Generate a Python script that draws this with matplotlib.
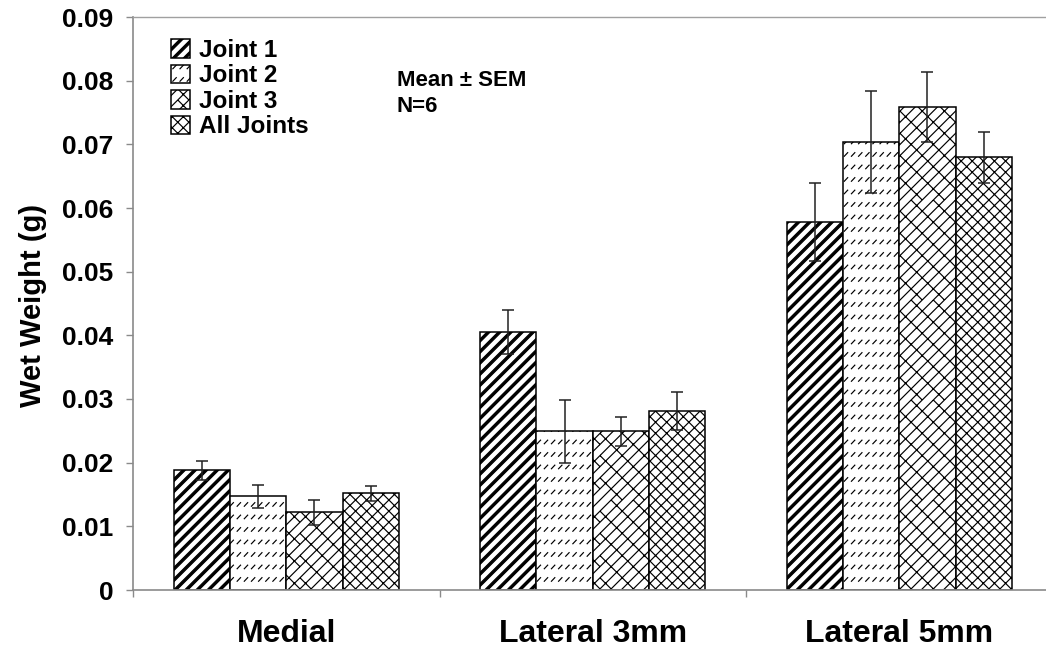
import numpy as np
import matplotlib
matplotlib.use("Agg")
import matplotlib.pyplot as plt
import matplotlib.hatch as mhatch
from matplotlib.path import Path
from matplotlib.ticker import FixedLocator

# ---- data -------------------------------------------------------------
categories = ["Medial", "Lateral 3mm", "Lateral 5mm"]
series_names = ["Joint 1", "Joint 2", "Joint 3", "All Joints"]

joint1 = [0.0188, 0.0405, 0.0578]
joint1_sem = [0.0015, 0.0035, 0.0062]
joint2 = [0.0147, 0.0249, 0.0704]
joint2_sem = [0.0018, 0.0050, 0.0080]
joint3 = [0.0122, 0.0249, 0.0758]
joint3_sem = [0.0020, 0.0023, 0.0055]
all_joints = [0.0152, 0.0281, 0.0680]
all_joints_sem = [0.0012, 0.0030, 0.0040]

y_ticks = [0.0, 0.01, 0.02, 0.03, 0.04, 0.05, 0.06, 0.07, 0.08, 0.09]
y_tick_labels = ["0", "0.01", "0.02", "0.03", "0.04", "0.05", "0.06",
                 "0.07", "0.08", "0.09"]

annotation_lines = ["Mean \u00b1 SEM", "N=6"]


# ---- fill textures ----------------------------------------------------
# Each texture is defined in the unit hatch tile and repeats seamlessly.
def _wide_diagonal(n=9, w=0.032):
    verts, codes = [], []
    x0, x1 = -0.3, 1.3
    for k in range(-2 * n, 2 * n):
        c = k / n
        verts += [(x0, x0 + c), (x1, x1 + c), (x1, x1 + c + w),
                  (x0, x0 + c + w), (x0, x0 + c)]
        codes += [Path.MOVETO, Path.LINETO, Path.LINETO, Path.LINETO,
                  Path.CLOSEPOLY]
    return verts, codes


def _dashed_diagonal(rows=8, cols=14, dx=0.034, dy=0.036):
    verts, codes = [], []
    for r in range(rows):
        y = (r + 0.5) / rows
        for j in range(cols):
            x = (j + 0.2) / cols
            verts += [(x, y), (x + dx, y + dy)]
            codes += [Path.MOVETO, Path.LINETO]
    return verts, codes


def _diagonal_brick(n=9):
    verts, codes = [], []
    x0, x1 = -0.3, 1.3
    d = 0.5 / n
    for k in range(-2 * n, 2 * n):
        c = k / n
        verts += [(x0, x0 + c), (x1, x1 + c)]
        codes += [Path.MOVETO, Path.LINETO]
        for j in range(-2 * n, 2 * n):
            x = j / n + (k % 2) * d
            y = x + c
            if -0.2 <= x <= 1.2 and -0.2 <= y <= 1.2:
                verts += [(x, y), (x - d, y + d)]
                codes += [Path.MOVETO, Path.LINETO]
    return verts, codes


def _diagonal_cross(n=9):
    verts, codes = [], []
    x0, x1 = -0.3, 1.3
    for k in range(-2 * n, 3 * n):
        c = k / n
        verts += [(x0, x0 + c), (x1, x1 + c)]
        codes += [Path.MOVETO, Path.LINETO]
        verts += [(x0, -x0 + c), (x1, -x1 + c)]
        codes += [Path.MOVETO, Path.LINETO]
    return verts, codes


_textures = {
    "/": _wide_diagonal,
    ".": _dashed_diagonal,
    "+": _diagonal_brick,
    "x": _diagonal_cross,
}


class TextureHatch(mhatch.HatchPatternBase):
    def __init__(self, hatch, density):
        builder = _textures.get(hatch[:1] if hatch else "")
        if builder is None:
            self._v, self._c = np.empty((0, 2)), np.empty(0)
        else:
            v, c = builder()
            self._v = np.asarray(v, float)
            self._c = np.asarray(c, dtype=Path.code_type)
        self.num_vertices = len(self._v)

    def set_vertices_and_codes(self, vertices, codes):
        vertices[:] = self._v
        codes[:] = self._c


mhatch._hatch_types = [TextureHatch]

hatches = ["/", ".", "+", "x"]

# ---- style ------------------------------------------------------------
plt.rcParams["font.family"] = ["Liberation Sans", "DejaVu Sans"]
plt.rcParams["font.weight"] = "bold"
plt.rcParams["hatch.linewidth"] = 0.85
plt.rcParams["hatch.color"] = "black"

W, H = 1046, 652
fig = plt.figure(figsize=(W / 100, H / 100), dpi=100)
ax = fig.add_axes([133 / W, 62 / H, 919.5 / W, 573 / H])

values = [joint1, joint2, joint3, all_joints]
errors = [joint1_sem, joint2_sem, joint3_sem, all_joints_sem]
x = np.arange(len(categories))
bar_w = 0.1837

for i, (vals, errs, name, h) in enumerate(zip(values, errors, series_names, hatches)):
    ax.bar(x + (i - 1.5) * bar_w, vals, width=bar_w, yerr=errs,
           facecolor="white", edgecolor="black", linewidth=1.1,
           hatch=h, label=name,
           error_kw=dict(ecolor="#222222", elinewidth=1.1, capsize=4.5,
                         capthick=1.1))

ax.set_xlim(-0.5, 2.5)
ax.set_ylim(0, 0.09)

grey = "#8a8a8a"
for side in ("left", "bottom"):
    ax.spines[side].set_color(grey)
    ax.spines[side].set_linewidth(1.2)
ax.spines["top"].set_color("#a0a0a0")
ax.spines["top"].set_linestyle((0, (1, 1)))
ax.spines["top"].set_linewidth(1.0)
ax.spines["right"].set_visible(False)

ax.yaxis.set_major_locator(FixedLocator(y_ticks))
ax.set_yticklabels(y_tick_labels)
ax.tick_params(axis="y", direction="out", length=5, width=1, color=grey,
               labelsize=19, pad=9)

ax.set_xticks(x)
ax.set_xticklabels(categories)
ax.set_xticks([-0.5, 0.5, 1.5, 2.5], minor=True)
ax.tick_params(axis="x", which="major", length=0, labelsize=23, pad=21)
ax.tick_params(axis="x", which="minor", direction="out", length=5, width=1,
               color=grey)

fig.text(33 / W, 1 - 305 / H, "Wet Weight (g)", rotation=90,
         ha="center", va="center", fontsize=21, fontweight="bold")

ax.legend(loc="upper left", bbox_to_anchor=(171 / W, 1 - 39 / H),
          bbox_transform=fig.transFigure, frameon=False,
          handlelength=0.8, handleheight=0.8, handletextpad=0.35,
          labelspacing=0.1, borderaxespad=0, borderpad=0,
          prop=dict(size=17.5, weight="bold"))

fig.text(397 / W, 1 - 80 / H, annotation_lines[0], ha="left", va="center",
         fontsize=16, fontweight="bold")
fig.text(397 / W, 1 - 106 / H, annotation_lines[1], ha="left", va="center",
         fontsize=16, fontweight="bold")

fig.savefig("out.png", dpi=100)
